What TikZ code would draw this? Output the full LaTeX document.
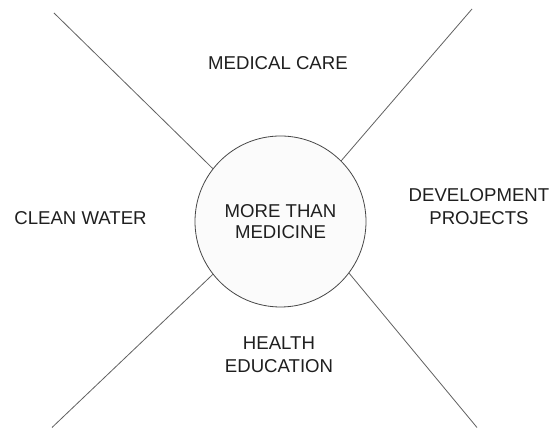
\documentclass[tikz,border=0pt]{standalone}
\usepackage{fontspec}
\setmainfont{Liberation Sans}
\begin{document}
\begin{tikzpicture}[x=1pt,y=1pt,
  spoke/.style={draw=black!62, line width=0.8pt},
  hub/.style={circle, draw=black!72, line width=0.8pt, fill=black!1.5,
    minimum size=171pt, inner sep=0pt, align=center, text=black!88,
    font=\fontsize{18.6}{21.5}\selectfont},
  area/.style={align=center, anchor=base, text=black!88, inner sep=0pt,
    font=\fontsize{18.6}{23.5}\selectfont}]
  \useasboundingbox (0,0) rectangle (550,428);
  \fill[white] (0,0) rectangle (550,428);

  % four spokes running out from the hub
  \coordinate (tl) at (54,415);
  \coordinate (tr) at (472,419);
  \coordinate (bl) at (52,0.5);
  \coordinate (br) at (477,0.5);

  \node[hub] (hub) at (280.5,206.5) {MORE THAN\\MEDICINE};

  \draw[spoke] (tl) -- (hub.142);
  \draw[spoke] (tr) -- (hub.45);
  \draw[spoke] (bl) -- (hub.218);
  \draw[spoke] (br) -- (hub.323);

  % the four areas between the spokes
  \node[area] (care) at (278,358) {MEDICAL CARE};
  \node[area] (water) at (80.5,203) {CLEAN WATER};
  \node[area] (dev) at (479,203) {DEVELOPMENT\\PROJECTS};
  \node[area] (edu) at (279,55) {HEALTH\\EDUCATION};
\end{tikzpicture}
\end{document}
